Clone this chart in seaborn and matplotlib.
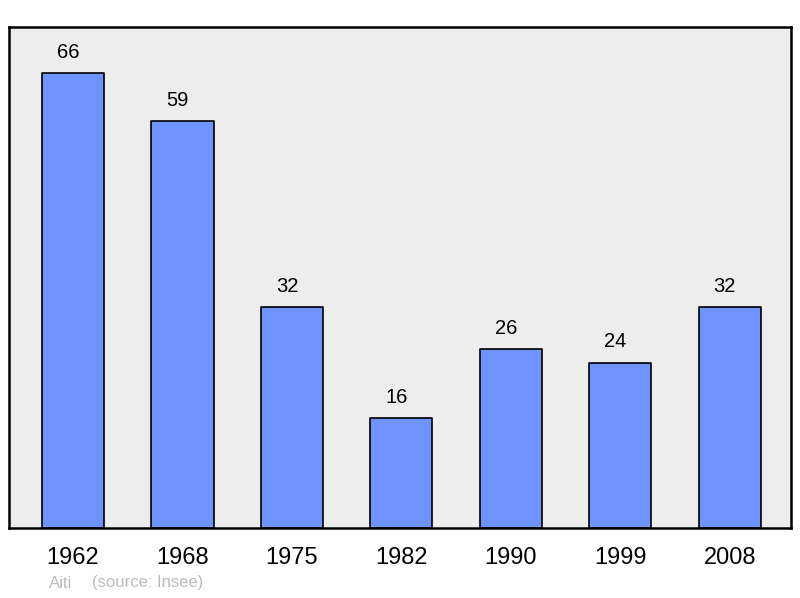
import matplotlib
matplotlib.use("Agg")
import matplotlib.pyplot as plt
import seaborn as sns
import pandas as pd

# données
years = ["1962", "1968", "1975", "1982", "1990", "1999", "2008"]
population = [66, 59, 32, 16, 26, 24, 32]

df = pd.DataFrame({"annee": years, "pop": population})

sns.set_style("white")
plt.rcParams["font.family"] = ["Liberation Sans", "DejaVu Sans"]

fig = plt.figure(figsize=(8, 5.98), dpi=100)
ax = fig.add_axes([9 / 800, 70 / 598, 782 / 800, 501 / 598])
ax.set_facecolor("#ededed")

sns.barplot(data=df, x="annee", y="pop", ax=ax, color="#7094ff",
            saturation=1, width=0.567, edgecolor="black", linewidth=1.2)

for p in ax.patches:
    p.set_joinstyle("round")

# étiquettes légèrement décalées à gauche comme dans l'original
for i, v in enumerate(population):
    ax.text(i - 0.045, v + 3.0, str(v), ha="center", va="center", fontsize=14.5, color="black")

ax.set_xlim(-0.585, 6.56)
ax.set_ylim(0, 72.7)
ax.set_xlabel("")
ax.set_ylabel("")
ax.set_yticks([])
ax.tick_params(axis="x", length=0, pad=14, labelsize=17, labelcolor="black")
for s in ax.spines.values():
    s.set_visible(True)
    s.set_color("black")
    s.set_linewidth(1.8)

fig.text(49 / 800, 1 - 583 / 598, "Aiti", color="#bbbbbb", fontsize=12, va="center")
fig.text(92 / 800, 1 - 583 / 598, "(source: Insee)", color="#bbbbbb", fontsize=12, va="center")

fig.savefig("out.png", dpi=100)
